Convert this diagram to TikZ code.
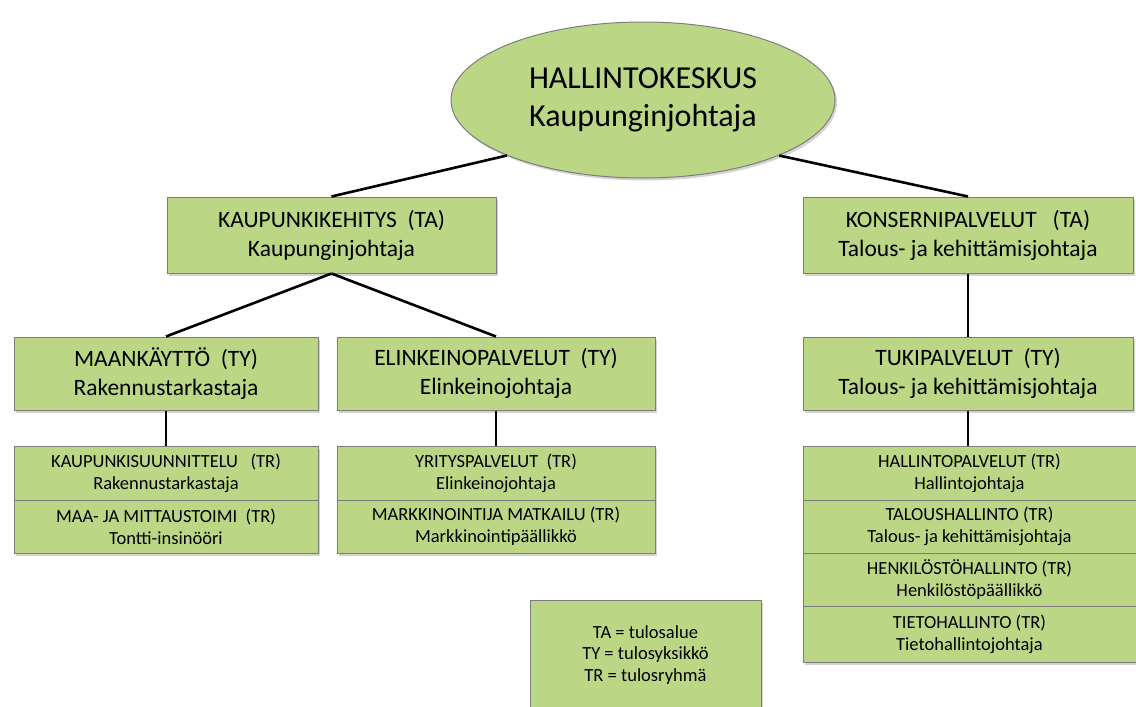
\documentclass[tikz,border=0pt]{standalone}
\usepackage{fontspec}
\setmainfont{Carlito}
\usetikzlibrary{shapes.geometric,shadows}
\definecolor{boxgreen}{RGB}{187,215,134}
\definecolor{boxline}{RGB}{125,125,125}
\begin{document}
\begin{tikzpicture}[x=1pt,y=-1pt,
    unitbox/.style={rectangle,draw=boxline,line width=1pt,fill=boxgreen,align=center,inner sep=0pt,
      drop shadow={shadow xshift=2pt,shadow yshift=-2.5pt,opacity=0.35}},
    bigtext/.style={font=\fontsize{23.5}{29}\selectfont},
    smalltext/.style={font=\fontsize{18.5}{22}\selectfont},
    link/.style={line width=2.6pt,black}]
  \useasboundingbox (0,0) rectangle (1136,707);
  \node[ellipse,draw=boxline,line width=1pt,fill=boxgreen,minimum width=384pt,minimum height=156pt,
    inner sep=0pt,align=center,font=\fontsize{32}{38.5}\selectfont,
    drop shadow={shadow xshift=2pt,shadow yshift=-2.5pt,opacity=0.35}] (hallinto) at (643,100)
    {HALLINTOKESKUS\\Kaupunginjohtaja};
  \node[unitbox,bigtext,minimum width=329pt,minimum height=76pt] (kehitys) at (331.5,235)
    {KAUPUNKIKEHITYS\ \ (TA)\\Kaupunginjohtaja};
  \node[unitbox,bigtext,minimum width=330pt,minimum height=76pt] (konserni) at (968,235)
    {KONSERNIPALVELUT\ \ \ (TA)\\Talous- ja kehittämisjohtaja};
  \node[unitbox,bigtext,minimum width=304pt,minimum height=73pt] (maankaytto) at (166,373.5)
    {MAANKÄYTTÖ\ \ (TY)\\Rakennustarkastaja};
  \node[unitbox,bigtext,minimum width=318pt,minimum height=73pt] (elinkeino) at (496,373.5)
    {ELINKEINOPALVELUT\ \ (TY)\\Elinkeinojohtaja};
  \node[unitbox,bigtext,minimum width=330pt,minimum height=73pt] (tuki) at (968,373.5)
    {TUKIPALVELUT\ \ (TY)\\Talous- ja kehittämisjohtaja};
  \node[unitbox,smalltext,minimum width=304pt,minimum height=54pt] (suunnittelu) at (166,473)
    {KAUPUNKISUUNNITTELU\ \ \ (TR)\\Rakennustarkastaja};
  \node[unitbox,smalltext,minimum width=304pt,minimum height=53pt] (mittaus) at (166,526.5)
    {MAA- JA MITTAUSTOIMI\ \ (TR)\\Tontti-insinööri};
  \node[unitbox,smalltext,minimum width=318pt,minimum height=54pt] (yritys) at (496,473)
    {YRITYSPALVELUT\ \ (TR)\\Elinkeinojohtaja};
  \node[unitbox,smalltext,minimum width=318pt,minimum height=53pt] (markkinointi) at (496,526.5)
    {MARKKINOINTIJA MATKAILU\ (TR)\\Markkinointipäällikkö};
  \node[unitbox,smalltext,minimum width=333pt,minimum height=54pt] (hallintopalvelut) at (969.5,473)
    {HALLINTOPALVELUT (TR)\\Hallintojohtaja};
  \node[unitbox,smalltext,minimum width=333pt,minimum height=53pt] (talous) at (969.5,526.5)
    {TALOUSHALLINTO (TR)\\Talous- ja kehittämisjohtaja};
  \node[unitbox,smalltext,minimum width=333pt,minimum height=53pt] (henkilosto) at (969.5,579.5)
    {HENKILÖSTÖHALLINTO (TR)\\Henkilöstöpäällikkö};
  \node[unitbox,smalltext,minimum width=333pt,minimum height=56pt] (tieto) at (969.5,634)
    {TIETOHALLINTO (TR)\\Tietohallintojohtaja};
  \node[unitbox,font=\fontsize{18.5}{21.7}\selectfont,minimum width=231pt,minimum height=110pt] (selite) at (645.5,655)
    {TA = tulosalue\\TY = tulosyksikkö\\TR = tulosryhmä};
  \draw[link] (hallinto.south west) -- (kehitys.north);
  \draw[link] (hallinto.south east) -- (konserni.north);
  \draw[link] (kehitys.south) -- (maankaytto.north);
  \draw[link] (kehitys.south) -- (elinkeino.north);
  \draw[link] (konserni.south) -- (tuki.north);
  \draw[link] (maankaytto.south) -- (suunnittelu.north);
  \draw[link] (elinkeino.south) -- (yritys.north);
  \draw[link] (tuki.south) -- (tuki.south |- hallintopalvelut.north);
\end{tikzpicture}
\end{document}
